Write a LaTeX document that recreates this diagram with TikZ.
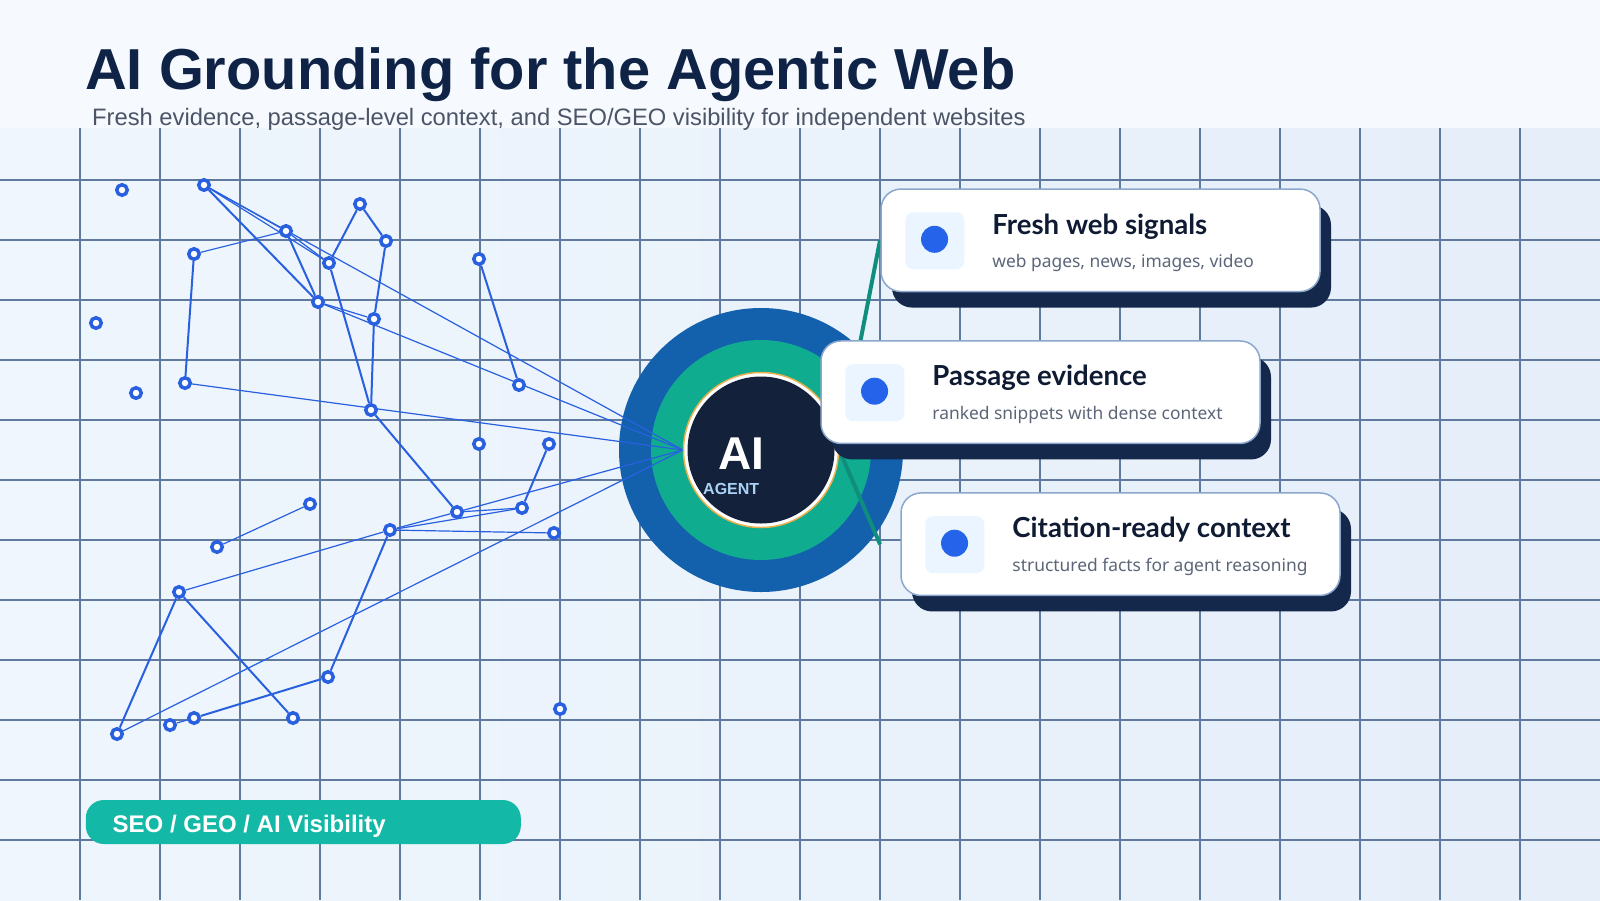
\documentclass[tikz,border=0pt]{standalone}
\usepackage{fontspec}
\setmainfont{Liberation Sans}
\newfontfamily\cardfont{Noto Sans}
\newfontfamily\cardheadfont{Lato}
\usetikzlibrary{calc}
\definecolor{navy}{HTML}{0F2347}
\definecolor{subgrey}{HTML}{4B5567}
\definecolor{gridc}{HTML}{5F7A9E}
\definecolor{bgA}{HTML}{EFF6FD}
\definecolor{bgB}{HTML}{E5EEF9}
\definecolor{bandc}{HTML}{F6F9FD}
\definecolor{netblue}{HTML}{2860E0}
\definecolor{ringblue}{HTML}{1360AD}
\definecolor{ringgreen}{HTML}{10AC8F}
\definecolor{hubdark}{HTML}{14213B}
\definecolor{gold}{HTML}{E8B04F}
\definecolor{tealline}{HTML}{0F8E7E}
\definecolor{cardborder}{HTML}{8BA7CC}
\definecolor{cardshadow}{HTML}{13284B}
\definecolor{iconbg}{HTML}{EAF5FF}
\definecolor{cardtitle}{HTML}{0F1B33}
\definecolor{cardsub}{HTML}{5C6678}
\definecolor{pillc}{HTML}{14B8A6}
\definecolor{agentc}{HTML}{A9D3F5}
\definecolor{dotblue}{HTML}{2563EB}
\pgfdeclarelayer{bgl}
\pgfdeclarelayer{ringl}
\pgfdeclarelayer{edgel}
\pgfsetlayers{bgl,ringl,edgel,main}
\tikzset{
  netdot/.style={circle,draw=netblue,line width=3.5pt,fill=white,minimum size=10.5pt,inner sep=0pt},
  thin edge/.style={draw=netblue,line width=1.2pt},
  thick edge/.style={draw=netblue,line width=2pt},
  cardbox/.style={rectangle,rounded corners=20pt,fill=white,draw=cardborder,line width=1.5pt,minimum width=439pt,minimum height=102.5pt,inner sep=0pt},
  cardshade/.style={rectangle,rounded corners=20pt,fill=cardshadow,minimum width=439pt,minimum height=102.5pt,inner sep=0pt},
  iconbox/.style={rectangle,rounded corners=8pt,fill=iconbg,minimum width=59pt,minimum height=57pt,inner sep=0pt},
  icondot/.style={circle,fill=dotblue,minimum size=27pt,inner sep=0pt},
  cardhead/.style={anchor=base west,inner sep=0pt,text=cardtitle,font=\cardheadfont\bfseries\fontsize{27.6pt}{30pt}\selectfont},
  cardtext/.style={anchor=base west,inner sep=0pt,text=cardsub,font=\cardfont\fontsize{17.4pt}{20pt}\selectfont},
  tealconn/.style={draw=tealline,line width=4pt}
}
\begin{document}
\begin{tikzpicture}[x=1pt,y=-1pt]
\useasboundingbox (0,0) rectangle (1600,900);
% background
\begin{pgfonlayer}{bgl}
\shade[left color=bgA,right color=bgB] (0,0) rectangle (1600,900);
\foreach \gx in {80,160,...,1520} \draw[gridc,line width=1.1pt] (\gx,128) -- (\gx,900);
\foreach \gy in {180,240,...,840} \draw[gridc,line width=1.1pt] (0,\gy) -- (1600,\gy);
\fill[bandc] (0,0) rectangle (1600,128);
\end{pgfonlayer}
% title
\node[anchor=base west,inner sep=0pt,text=navy,font=\bfseries\fontsize{57.8pt}{60pt}\selectfont] (title) at (85,89) {AI Grounding for the Agentic Web};
\node[anchor=base west,inner sep=0pt,text=subgrey,font=\fontsize{23.75pt}{26pt}\selectfont] (subtitle) at (92,125) {Fresh evidence, passage-level context, and SEO/GEO visibility for independent websites};
% hub rings
\begin{pgfonlayer}{ringl}
\node[circle,fill=ringblue,minimum size=284pt,inner sep=0pt] (ringout) at (761,450) {};
\node[circle,fill=ringgreen,minimum size=220pt,inner sep=0pt] (ringin) at (761,450) {};
\end{pgfonlayer}
% network nodes
\foreach \nm/\px/\py in {n1/122/190, nA/204/185, nC/286/231, nD/360/204, nE/386/241, nF/194/254, nG/329/263, nH/479/259, n9/96/323, nJ/318/302, nK/374/319, n12/136/393, nM/185/383, nN/519/385, nO/371/410, n16/479/444, nR/549/444, nQ/310/504, nP/457/512, nS/522/508, nU/390/530, nV/554/533, nT/217/547, nW/179/592, nZ/328/677, nY/293/718, nAA/194/718, nBB/170/725, nX/117/734, n30/560/709}
  \node[netdot] (\nm) at (\px,\py) {};
% hub
\node[circle,fill=white,draw=gold,line width=1.5pt,minimum size=155pt,inner sep=0pt] (hub) at (761,450) {};
\fill[hubdark] (hub.center) circle (73.5);
\node[anchor=base west,inner sep=0pt,text=white,font=\bfseries\fontsize{46pt}{48pt}\selectfont] (ailabel) at (718,469) {AI};
\node[anchor=base west,inner sep=0pt,text=agentc,font=\bfseries\fontsize{16pt}{18pt}\selectfont] (agentlabel) at (703,494) {AGENT};
% cards
\node[cardshade] (sh1) at (1111.5,256.3) {};
\node[cardbox] (card1) at (1100.5,240.3) {};
\node[cardshade] (sh2) at (1051.5,408.2) {};
\node[cardbox] (card2) at (1040.5,392.2) {};
\node[cardshade] (sh3) at (1131.5,560.2) {};
\node[cardbox] (card3) at (1120.5,544.2) {};
\foreach \c/\h/\t in {card1/Fresh web signals/{web pages, news, images, video}, card2/Passage evidence/{ranked snippets with dense context}, card3/Citation-ready context/{structured facts for agent reasoning}}{
  \node[iconbox] (\c icon) at ($(\c.west)+(54.5,0.5)$) {};
  \node[icondot] (\c dot) at ($(\c.west)+(54.3,-1)$) {};
  \node[cardhead] (\c head) at ($(\c.west)+(112,-6.3)$) {\h};
  \node[cardtext] (\c text) at ($(\c.west)+(112,27)$) {\t};
}
\coordinate (link1) at (880,240.3);
\coordinate (link3) at (880,544.2);
% pill
\node[rectangle,rounded corners=18pt,fill=pillc,minimum width=435pt,minimum height=44pt,inner sep=0pt] (pill) at (303.3,822) {};
\node[anchor=base west,inner sep=0pt,text=white,font=\bfseries\fontsize{24pt}{26pt}\selectfont] (pilltext) at (112.5,832.3) {SEO / GEO / AI Visibility};
% edges
\begin{pgfonlayer}{edgel}
\foreach \a/\b in {nA/nJ, nC/nJ, nD/nG, nD/nE, nE/nK, nF/nM, nG/nO, nK/nO, nH/nN, nO/nP, nR/nS, nW/nX, nW/nY, nU/nZ, nZ/nAA}
  \draw[thick edge] (\a) -- (\b);
\foreach \a/\b in {nA/nC, nA/nG, nC/nF, nC/nG, nJ/nK, nQ/nT, nU/nP, nU/nS, nP/nS, nU/nV, nW/nU, nAA/nBB}
  \draw[thin edge] (\a) -- (\b);
\foreach \a in {nA, nJ, nM, nP, nX}
  \draw[thin edge] (\a.center) -- (hub.west);
\draw[tealconn] (hub.east) -- (link1);
\draw[tealconn] (hub.east) -- (link3);
\end{pgfonlayer}
\end{tikzpicture}
\end{document}
